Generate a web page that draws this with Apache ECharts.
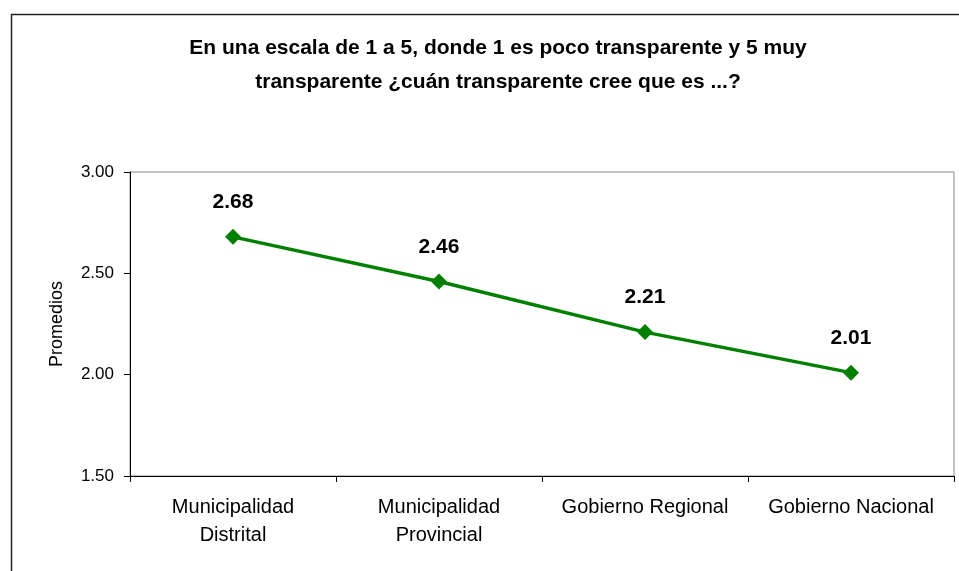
<!DOCTYPE html>
<html>
<head>
<meta charset="utf-8">
<script src="https://cdn.jsdelivr.net/npm/echarts@6/dist/echarts.min.js"></script>
<style>
html,body{margin:0;padding:0;background:#fff;}
#main{width:959px;height:571px;}
</style>
</head>
<body>
<div id="main"></div>
<script>
const titleLines = ['En una escala de 1 a 5, donde 1 es poco transparente y 5 muy', 'transparente ¿cuán transparente cree que es ...?'];
const categories = ['Municipalidad\nDistrital', 'Municipalidad\nProvincial', 'Gobierno Regional', 'Gobierno Nacional'];
const values = [2.68, 2.46, 2.21, 2.01];
const yTicks = { min: 1.5, max: 3.0, interval: 0.5 };
const yAxisName = 'Promedios';

const chart = echarts.init(document.getElementById('main'));
chart.setOption({
  backgroundColor: '#fff',
  animation: false,
  textStyle: { fontFamily: 'Liberation Sans, Arial, sans-serif' },
  title: {
    text: titleLines.join('\n'),
    left: 493, top: 26, textAlign: 'center',
    textStyle: { fontSize: 21, fontWeight: 'bold', color: '#000', lineHeight: 34, fontFamily: 'Liberation Sans, Arial, sans-serif' }
  },
  graphic: [{
    type: 'rect', left: 9, top: 12, silent: true,
    shape: { width: 960, height: 570 },
    style: { fill: 'none', stroke: '#222', lineWidth: 1.5 }
  }],
  grid: { left: 130, right: 5, top: 172, bottom: 95, show: true, borderColor: '#888', borderWidth: 1, backgroundColor: 'transparent' },
  xAxis: {
    type: 'category', data: categories, boundaryGap: true,
    axisLine: { lineStyle: { color: '#000', width: 1 } },
    axisTick: { show: true, alignWithLabel: false, length: 6, lineStyle: { color: '#000' } },
    axisLabel: { color: '#000', fontSize: 20, lineHeight: 28, margin: 17, interval: 0 }
  },
  yAxis: {
    type: 'value', min: yTicks.min, max: yTicks.max, interval: yTicks.interval,
    name: yAxisName, nameLocation: 'middle', nameGap: 64, nameRotate: 90,
    nameTextStyle: { color: '#000', fontSize: 18 },
    axisLine: { show: true, lineStyle: { color: '#000', width: 1 } },
    axisTick: { show: true, length: 6, lineStyle: { color: '#000' } },
    axisLabel: { color: '#000', fontSize: 17, margin: 16, formatter: v => v.toFixed(2) },
    splitLine: { show: false }
  },
  series: [{
    type: 'line', data: values,
    symbol: 'diamond', symbolSize: 16,
    lineStyle: { color: '#008000', width: 3.5 },
    itemStyle: { color: '#008000' },
    label: { show: true, position: 'top', distance: 16, color: '#000', fontSize: 21, fontWeight: 'bold', formatter: p => p.value.toFixed(2) }
  }]
});
</script>
</body>
</html>
